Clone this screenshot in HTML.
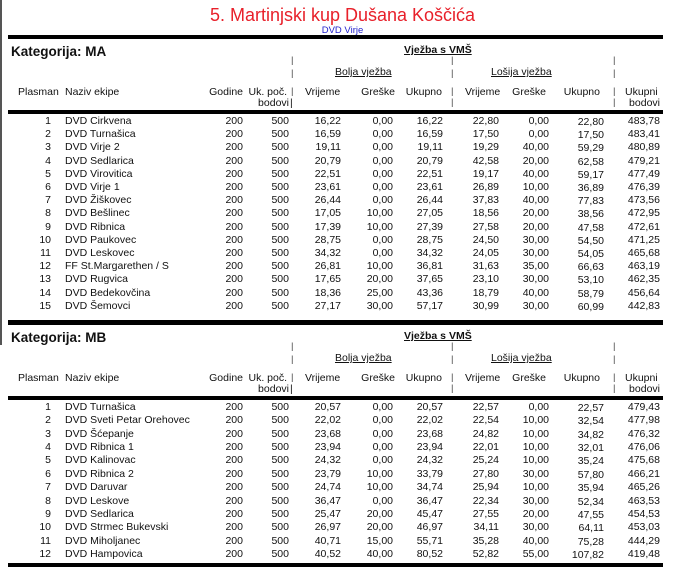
<!DOCTYPE html>
<html><head><meta charset="utf-8">
<style>
html,body{margin:0;padding:0;background:#fff;}
#page{position:relative;width:681px;height:585px;overflow:hidden;font-family:"Liberation Sans",Arial,sans-serif;color:#111;}
.t{position:absolute;font-size:10.5px;white-space:nowrap;line-height:12px;}
.r{text-align:right;}
.rule{position:absolute;background:#000;left:8px;width:655px;}
</style></head>
<body>
<div id="page">
<div style="position:absolute;left:0;top:0;width:2px;height:345px;background:#555"></div>
<div class="t" style="left:2px;width:681px;text-align:center;top:4px;font-size:18px;line-height:22px;color:#e8202a">5. Martinjski kup Dušana Koščića</div>
<div class="t" style="left:2px;width:681px;text-align:center;top:25px;font-size:9.5px;color:#2222cc">DVD Virje</div>
</div>
<script>
const catNames=["Kategorija: MA","Kategorija: MB"];
const teamsMA=["DVD Cirkvena","DVD Turnašica","DVD Virje 2","DVD Sedlarica","DVD Virovitica","DVD Virje 1","DVD Žiškovec","DVD Bešlinec","DVD Ribnica","DVD Paukovec","DVD Leskovec","FF St.Margarethen / S","DVD Rugvica","DVD Bedekovčina","DVD Šemovci"];
const valuesMA=[
["16,22","0,00","16,22","22,80","0,00","22,80","483,78"],
["16,59","0,00","16,59","17,50","0,00","17,50","483,41"],
["19,11","0,00","19,11","19,29","40,00","59,29","480,89"],
["20,79","0,00","20,79","42,58","20,00","62,58","479,21"],
["22,51","0,00","22,51","19,17","40,00","59,17","477,49"],
["23,61","0,00","23,61","26,89","10,00","36,89","476,39"],
["26,44","0,00","26,44","37,83","40,00","77,83","473,56"],
["17,05","10,00","27,05","18,56","20,00","38,56","472,95"],
["17,39","10,00","27,39","27,58","20,00","47,58","472,61"],
["28,75","0,00","28,75","24,50","30,00","54,50","471,25"],
["34,32","0,00","34,32","24,05","30,00","54,05","465,68"],
["26,81","10,00","36,81","31,63","35,00","66,63","463,19"],
["17,65","20,00","37,65","23,10","30,00","53,10","462,35"],
["18,36","25,00","43,36","18,79","40,00","58,79","456,64"],
["27,17","30,00","57,17","30,99","30,00","60,99","442,83"]];
const teamsMB=["DVD Turnašica","DVD Sveti Petar Orehovec","DVD Šćepanje","DVD Ribnica 1","DVD Kalinovac","DVD Ribnica 2","DVD Daruvar","DVD Leskove","DVD Sedlarica","DVD Strmec Bukevski","DVD Miholjanec","DVD Hampovica"];
const valuesMB=[
["20,57","0,00","20,57","22,57","0,00","22,57","479,43"],
["22,02","0,00","22,02","22,54","10,00","32,54","477,98"],
["23,68","0,00","23,68","24,82","10,00","34,82","476,32"],
["23,94","0,00","23,94","22,01","10,00","32,01","476,06"],
["24,32","0,00","24,32","25,24","10,00","35,24","475,68"],
["23,79","10,00","33,79","27,80","30,00","57,80","466,21"],
["24,74","10,00","34,74","25,94","10,00","35,94","465,26"],
["36,47","0,00","36,47","22,34","30,00","52,34","463,53"],
["25,47","20,00","45,47","27,55","20,00","47,55","454,53"],
["26,97","20,00","46,97","34,11","30,00","64,11","453,03"],
["40,71","15,00","55,71","35,28","40,00","75,28","444,29"],
["40,52","40,00","80,52","52,82","55,00","107,82","419,48"]];
const godine="200", ukPoc="500";

const page=document.getElementById('page');
function txt(s,x,y,right,name,extra){
  const d=document.createElement('div');
  d.className='t'+(right?' r':'');
  d.textContent=s;
  if(right){d.style.left=(x-120)+'px';d.style.width='120px';}else d.style.left=x+'px';
  d.style.top=(y-6)+'px';
  if(extra)Object.assign(d.style,extra);
  
  
  page.appendChild(d);return d;
}
function rule(y,h,name){
  const d=document.createElement('div');d.className='rule';
  d.style.top=y+'px';d.style.height=h+'px';
  
  
  page.appendChild(d);
}
const numRight=[341,393,443,499,549,604,660];
function section(top,title,teams,vals,rowStep,key){
  txt(title,11,top+52,false,'category-title-'+key,{fontSize:'13.5px',fontWeight:'bold'});
  txt('Vježba s VMŠ',404,top+50,false,'group-header-vms',{fontWeight:'bold',textDecoration:'underline'});
  txt('Bolja vježba',335,top+72,false,'group-header-bolja',{textDecoration:'underline'});
  txt('Lošija vježba',491,top+72,false,'group-header-losija',{textDecoration:'underline'});
  const hy=top+92;
  txt('Plasman',18,hy,false,'col-plasman');
  txt('Naziv ekipe',65,hy,false,'col-naziv');
  txt('Godine',243,hy,true,'col-godine');
  txt('Uk. poč.',287,hy,true,'col-uk-poc');
  txt('bodovi',289,hy+11,true,'col-uk-poc-2');
  txt('Vrijeme',305,hy,false,'col-vrijeme-1');
  txt('Greške',395,hy,true,'col-greske-1');
  txt('Ukupno',442,hy,true,'col-ukupno-1');
  txt('Vrijeme',465,hy,false,'col-vrijeme-2');
  txt('Greške',546,hy,true,'col-greske-2');
  txt('Ukupno',600,hy,true,'col-ukupno-2');
  txt('Ukupni',625,hy,false,'col-ukupni');
  txt('bodovi',660,hy+11,true,'col-ukupni-2');
  [291,451,613].forEach((px,i)=>{
    [top+61,top+74,top+92,top+103].forEach((py,j)=>{
      if(i==0&&j==3){txt('|',px-1,py,false,'divider');return;}
      txt('|',px,py,false,'divider',{fontSize:'9.5px',color:'#444'});
    });
  });
  rule(top+110,4,'header-rule-'+key);
  teams.forEach((t,i)=>{
    const y=top+121+i*rowStep;
    txt(String(i+1),51,y,true,'rank');
    txt(t,65,y,false,'team-name');
    txt(godine,243,y,true,'godine-value');
    txt(ukPoc,289,y,true,'uk-poc-value');
    vals[i].forEach((v,k)=>txt(v,numRight[k],y+(k==5?1:0),true,'value-cell'));
  });
}
rule(35,4,'top-rule');
section(0,catNames[0],teamsMA,valuesMA,13.2,'ma');
rule(320,5,'section-rule-ma');
section(286,catNames[1],teamsMB,valuesMB,13.36,'mb');
rule(563,4,'bottom-rule');
</script>
</body></html>
